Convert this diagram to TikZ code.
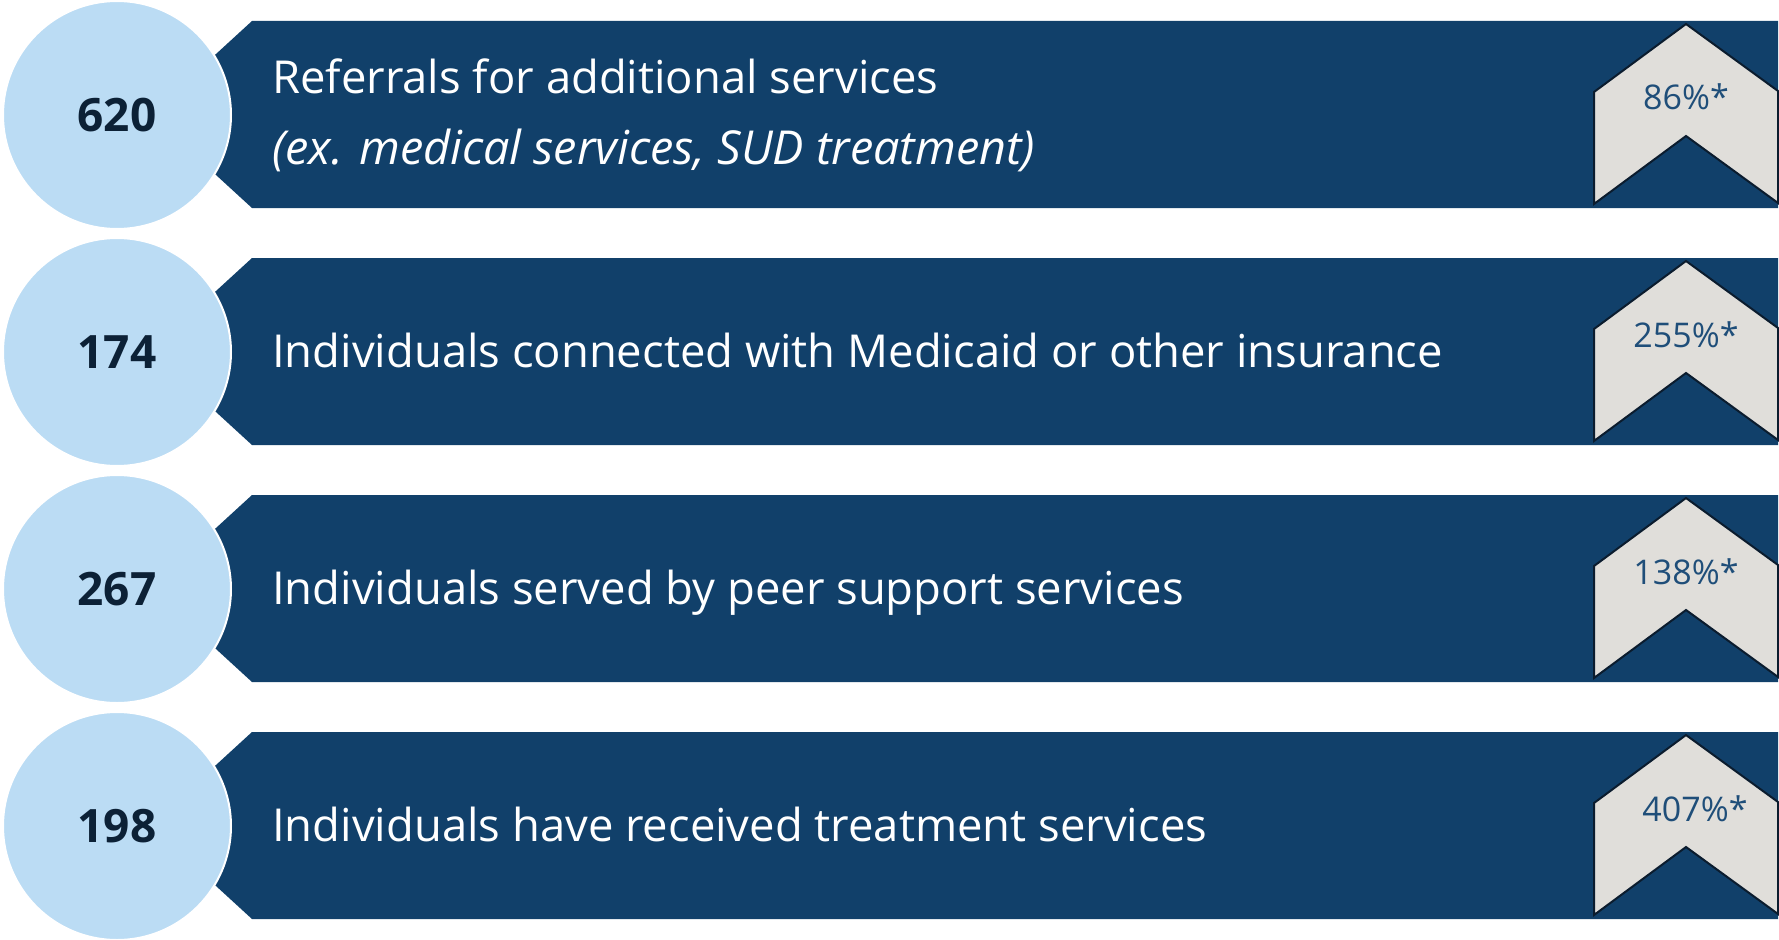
\documentclass[tikz,border=0pt]{standalone}
\usepackage{fontspec}
\setmainfont{Open Sans}
\definecolor{bannerblue}{HTML}{11406A}
\definecolor{circleblue}{HTML}{BBDCF4}
\definecolor{chevfill}{HTML}{E0DEDA}
\definecolor{chevline}{HTML}{0B1C2E}
\definecolor{pcttext}{HTML}{1F4E79}
\definecolor{numtext}{HTML}{0C2136}
\tikzset{
  banner/.style={fill=bannerblue},
  chev/.style={fill=chevfill, draw=chevline, line width=2pt, line join=miter},
  numcircle/.style={circle, fill=circleblue, draw=white, line width=2pt, minimum size=228pt, inner sep=0pt,
    text=numtext, font=\fontsize{46}{50}\selectfont\bfseries},
  pct/.style={inner sep=0pt, text=pcttext, font=\fontsize{34}{40}\selectfont},
  maintext/.style={inner sep=0pt, text=white, anchor=base west, font=\fontsize{45.4}{54}\selectfont},
}
\begin{document}
\begin{tikzpicture}[x=1pt,y=-1pt]
\useasboundingbox (0,0) rectangle (1779,939);
\foreach \T/\n/\p/\px [count=\i] in {21/620/86/1686, 258/174/255/1686, 495/267/138/1686, 732/198/407/1695} {
  \fill[banner] (252,\T) -- (1778,\T) -- (1778,\T+187) -- (252,\T+187) -- (150,\T+93.5) -- cycle;
  \draw[chev] (1686,\T+3) -- (1778,\T+70) -- (1778,\T+182) -- (1686,\T+115) -- (1594,\T+183) -- (1594,\T+71) -- cycle;
  \node[pct, anchor=base] (p\i) at (\px,\T+89) {\p\%*};
  \node[numcircle] (c\i) at (117,\T+94) {\n};
}
\node[maintext] (t1a) at (272,94) {Referrals for additional services};
\node[maintext, font=\fontsize{46.8}{54}\selectfont\itshape] (t1b) at (272,164) {(ex. medical services, SUD treatment)};
\node[maintext] (t2) at (272,367) {Individuals connected with Medicaid or other insurance};
\node[maintext] (t3) at (272,604) {Individuals served by peer support services};
\node[maintext] (t4) at (272,841) {Individuals have received treatment services};
\end{tikzpicture}
\end{document}
